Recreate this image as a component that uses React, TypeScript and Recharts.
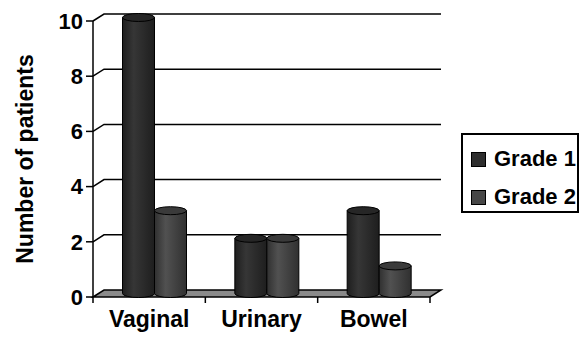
import React from 'react';
import { BarChart, Bar, XAxis, YAxis, CartesianGrid, Legend } from 'recharts';

const categories = ['Vaginal', 'Urinary', 'Bowel'];
const grade1 = [10, 2, 3];
const grade2 = [3, 2, 1];
const yTicks = [0, 2, 4, 6, 8, 10];

const data = categories.map((name, i) => ({ name, grade1: grade1[i], grade2: grade2[i] }));

const FONT = '"Liberation Sans", Arial, sans-serif';
// depth of the 3D box: back wall sits this far right / up from the front axes
const DEPTH_X = 11;
const DEPTH_Y = 7;
const X_TICK_MARGIN = 14;

const seriesStyle: Record<string, { edge: string; mid: string; top: string; legend: string }> = {
  grade1: { edge: '#1e1e1e', mid: '#363636', top: '#262626', legend: '#2e2e2e' },
  grade2: { edge: '#303030', mid: '#515151', top: '#3a3a3a', legend: '#474747' },
};

const makeCylinder = (key: string) => (props: any) => {
  const { x, y, width, height } = props;
  const s = seriesStyle[key];
  const bx = x + DEPTH_X / 2;
  const top = y - DEPTH_Y / 2;
  const bottom = y + height - DEPTH_Y / 2;
  const rx = width / 2;
  const ry = 4;
  const id = `cyl-${key}`;
  return (
    <g>
      <defs>
        <linearGradient id={id} x1="0" y1="0" x2="1" y2="0">
          <stop offset="0%" stopColor={s.edge} />
          <stop offset="35%" stopColor={s.mid} />
          <stop offset="100%" stopColor={s.edge} />
        </linearGradient>
      </defs>
      <path
        d={`M${bx},${top} L${bx},${bottom} A${rx},${ry} 0 0 0 ${bx + width},${bottom} L${bx + width},${top} Z`}
        fill={`url(#${id})`}
        stroke="#000"
        strokeWidth={1}
      />
      <ellipse cx={bx + rx} cy={top} rx={rx} ry={ry} fill={s.top} stroke="#000" strokeWidth={1} />
    </g>
  );
};

// back-wall gridlines, with the floor drawn for the zero line
const GridLine = (props: any) => {
  const { x1, x2, y1, y, height } = props;
  const isFloor = Math.abs(y1 - (y + height)) < 1;
  if (isFloor) {
    return (
      <polygon
        points={`${x1},${y1} ${x1 + DEPTH_X},${y1 - DEPTH_Y} ${x2 + DEPTH_X},${y1 - DEPTH_Y} ${x2},${y1}`}
        fill="#8a8a8a"
        stroke="#000"
        strokeWidth={1.5}
      />
    );
  }
  return (
    <polyline
      points={`${x1},${y1} ${x1 + DEPTH_X},${y1 - DEPTH_Y} ${x2 + DEPTH_X},${y1 - DEPTH_Y}`}
      fill="none"
      stroke="#000"
      strokeWidth={1.5}
    />
  );
};

// category label plus the short ticks hanging under the floor at band edges
const CategoryTick = (props: any) => {
  const { x, y, payload, index, width, visibleTicksCount } = props;
  const half = payload?.offset || width / visibleTicksCount / 2;
  const axisY = y - X_TICK_MARGIN;
  const last = index === visibleTicksCount - 1;
  return (
    <g>
      <line x1={x - half} y1={axisY} x2={x - half} y2={axisY + 6} stroke="#000" strokeWidth={1.5} />
      {last && <line x1={x + half} y1={axisY} x2={x + half} y2={axisY + 6} stroke="#000" strokeWidth={1.5} />}
      <text
        x={x}
        y={y}
        dy="0.71em"
        textAnchor="middle"
        fill="#000"
        fontSize={23}
        fontWeight="bold"
        fontFamily={FONT}
      >
        {payload.value}
      </text>
    </g>
  );
};

const LegendBox = () => (
  <div
    style={{
      border: '2px solid #000',
      width: 118,
      height: 80,
      boxSizing: 'border-box',
      fontFamily: FONT,
      fontWeight: 'bold',
      fontSize: 22,
      padding: '12px 0 0 8px',
    }}
  >
    {[
      { label: 'Grade 1', key: 'grade1' },
      { label: 'Grade 2', key: 'grade2' },
    ].map((item) => (
      <div key={item.key} style={{ display: 'flex', alignItems: 'center', height: 24, marginBottom: 14 }}>
        <span
          style={{
            display: 'inline-block',
            width: 13,
            height: 13,
            background: seriesStyle[item.key].legend,
            border: '1px solid #000',
            marginRight: 8,
          }}
        />
        <span>{item.label}</span>
      </div>
    ))}
  </div>
);

const YTitle = (props: any) => {
  const { viewBox } = props;
  const cy = viewBox.y + viewBox.height / 2;
  return (
    <text
      x={25}
      y={cy}
      transform={`rotate(-90, 25, ${cy})`}
      textAnchor="middle"
      dominantBaseline="central"
      fontFamily={FONT}
      fontWeight="bold"
      fontSize={23}
      fill="#000"
    >
      Number of patients
    </text>
  );
};

export default function App() {
  return (
    <div style={{ position: 'absolute', left: 0, top: 0, background: '#fff' }}>
      <BarChart
        width={581}
        height={337}
        data={data}
        margin={{ top: 21, right: 151, bottom: 0, left: 0 }}
        barGap={0}
        barSize={32}
      >
        <CartesianGrid vertical={false} horizontal={GridLine} />
        <XAxis
          dataKey="name"
          axisLine={false}
          tickLine={false}
          tickSize={0}
          tickMargin={X_TICK_MARGIN}
          height={40}
          tick={CategoryTick}
        />
        <YAxis
          domain={[0, 10]}
          ticks={yTicks}
          width={93}
          axisLine={{ stroke: '#000', strokeWidth: 1.5 }}
          tickLine={{ stroke: '#000', strokeWidth: 1.5 }}
          tickSize={7}
          tickMargin={3}
          tick={{ fill: '#000', fontSize: 22, fontWeight: 'bold', fontFamily: FONT }}
          label={<YTitle />}
        />
        <Legend
          layout="horizontal"
          align="center"
          verticalAlign="middle"
          wrapperStyle={{ position: 'absolute', left: 461, top: 133, width: 'auto' }}
          content={<LegendBox />}
        />
        <Bar dataKey="grade1" name="Grade 1" fill="#2e2e2e" shape={makeCylinder('grade1')} isAnimationActive={false} />
        <Bar dataKey="grade2" name="Grade 2" fill="#474747" shape={makeCylinder('grade2')} isAnimationActive={false} />
      </BarChart>
    </div>
  );
}
